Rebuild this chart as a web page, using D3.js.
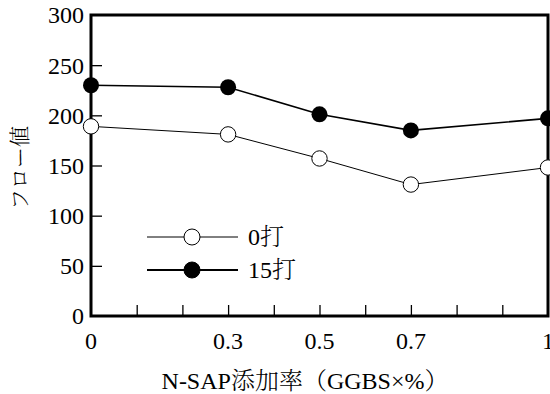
<!DOCTYPE html>
<html><head><meta charset="utf-8">
<script src="https://cdn.jsdelivr.net/npm/d3@7"></script>
<style>body{margin:0;background:#fff}svg{display:block}</style>
</head><body>
<svg id="c" width="550" height="394"></svg>
<script>
const xValues = [0, 0.3, 0.5, 0.7, 1];
const xTickLabels = ["0", "0.3", "0.5", "0.7", "1"];
const yTicks = [0, 50, 100, 150, 200, 250, 300];
const series0 = [189, 181, 157, 131, 148];   // 0打
const series15 = [230, 228, 201, 185, 197];  // 15打
const seriesNames = ["0打", "15打"];
const xTitle = "N-SAP添加率（GGBS×%）";
const yTitle = "フロー値";

const font = "'Liberation Serif','Times New Roman','Noto Serif CJK JP','Noto Sans CJK JP',serif";
const svg = d3.select("#c");
const L = 91, R = 548, T = 15, B = 316;
const x = d3.scaleLinear().domain([0, 1]).range([L, R]);
const y = d3.scaleLinear().domain([0, 300]).range([B, T]);

// y ticks (inside)
const gy = svg.append("g").attr("transform", `translate(${L},0)`)
  .call(d3.axisRight(y).tickValues(yTicks.slice(1, -1)).tickSize(11).tickFormat(""));
gy.select(".domain").remove();
gy.selectAll("line").attr("stroke", "#000").attr("stroke-width", 1.3);
// y labels
svg.append("g").selectAll("text").data(yTicks).join("text")
  .attr("x", L - 7).attr("y", d => y(d)).attr("dy", "0.35em")
  .attr("text-anchor", "end").attr("font-family", font).attr("font-size", 24)
  .text(d => d);

// x minor ticks (inside, pointing up)
const minor = d3.range(1, 10).map(d => d / 10);
const gx = svg.append("g").attr("transform", `translate(0,${B})`)
  .call(d3.axisTop(x).tickValues(minor).tickSize(11).tickFormat(""));
gx.select(".domain").remove();
gx.selectAll("line").attr("stroke", "#000").attr("stroke-width", 1.3);
svg.append("g").selectAll("text").data(xValues).join("text")
  .attr("x", d => x(d)).attr("y", 341).attr("dy", "0.35em")
  .attr("text-anchor", "middle").attr("font-family", font).attr("font-size", 24)
  .text((d, i) => xTickLabels[i]);

// frame
svg.append("rect").attr("x", L).attr("y", T).attr("width", R - L).attr("height", B - T)
  .attr("fill", "none").attr("stroke", "#000").attr("stroke-width", 3);

// lines
const line = d3.line().x((d, i) => x(xValues[i])).y(d => y(d));
svg.append("path").datum(series0).attr("d", line).attr("fill", "none")
  .attr("stroke", "#000").attr("stroke-width", 1);
svg.append("path").datum(series15).attr("d", line).attr("fill", "none")
  .attr("stroke", "#000").attr("stroke-width", 1.6);
svg.append("g").selectAll("circle").data(series15).join("circle")
  .attr("cx", (d, i) => x(xValues[i])).attr("cy", d => y(d)).attr("r", 8).attr("fill", "#000");
svg.append("g").selectAll("circle").data(series0).join("circle")
  .attr("cx", (d, i) => x(xValues[i])).attr("cy", d => y(d)).attr("r", 7.7)
  .attr("fill", "#fff").attr("stroke", "#000").attr("stroke-width", 1);

// legend
const leg = [{name: seriesNames[0], fill: "#fff", sw: 1, yy: 237},
             {name: seriesNames[1], fill: "#000", sw: 2, yy: 270}];
const lg = svg.append("g").selectAll("g").data(leg).join("g");
lg.append("line").attr("x1", 147).attr("x2", 238).attr("y1", d => d.yy).attr("y2", d => d.yy)
  .attr("stroke", "#000").attr("stroke-width", d => d.sw);
lg.append("circle").attr("cx", 192).attr("cy", d => d.yy).attr("r", 8)
  .attr("fill", d => d.fill).attr("stroke", "#000").attr("stroke-width", 1);
lg.append("text").attr("x", 248).attr("y", d => d.yy).attr("dy", "0.35em")
  .attr("font-family", font).attr("font-size", 24).attr("font-weight", 300).text(d => d.name);

// titles
svg.append("text").attr("x", 305).attr("y", 381).attr("dy", "0.35em")
  .attr("text-anchor", "middle").attr("font-family", font).attr("font-size", 24)
  .attr("font-weight", 300).text(xTitle);
svg.append("text").attr("transform", "translate(20,168) rotate(-90)").attr("dy", "0.35em")
  .attr("text-anchor", "middle").attr("font-family", font).attr("font-size", 21)
  .attr("font-weight", 300).text(yTitle);
</script>
</body></html>
